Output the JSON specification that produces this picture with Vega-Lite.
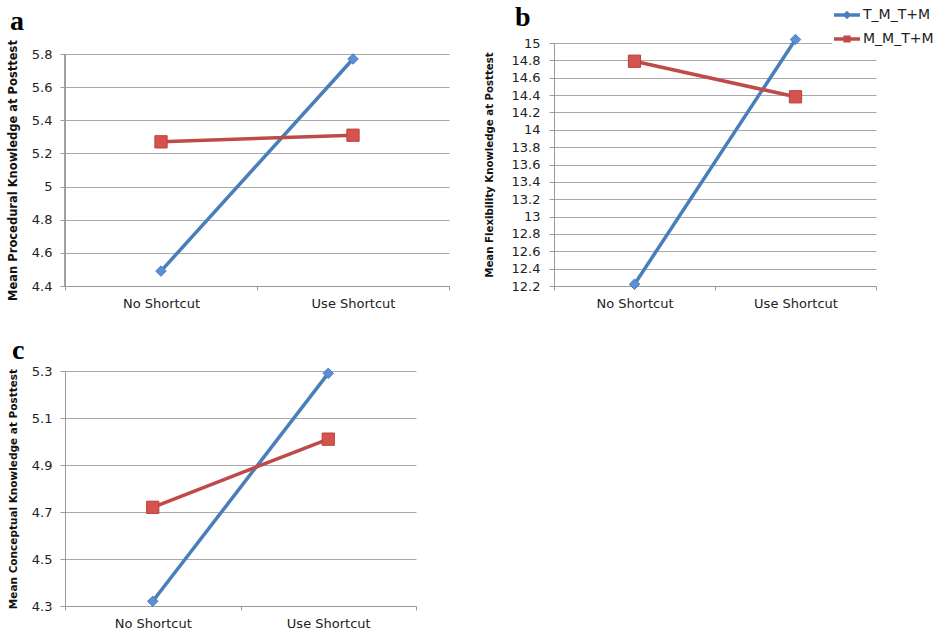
{
  "$schema": "https://vega.github.io/schema/vega-lite/v6.json",
  "background": "white",
  "padding": {"left": 7, "top": 0, "right": 0, "bottom": 0},
  "datasets": {
    "a": [
      {"shortcut": "No Shortcut", "group": "T_M_T+M", "value": 4.49},
      {"shortcut": "Use Shortcut", "group": "T_M_T+M", "value": 5.77},
      {"shortcut": "No Shortcut", "group": "M_M_T+M", "value": 5.27},
      {"shortcut": "Use Shortcut", "group": "M_M_T+M", "value": 5.31}
    ],
    "b": [
      {"shortcut": "No Shortcut", "group": "T_M_T+M", "value": 12.22},
      {"shortcut": "Use Shortcut", "group": "T_M_T+M", "value": 15.04},
      {"shortcut": "No Shortcut", "group": "M_M_T+M", "value": 14.79},
      {"shortcut": "Use Shortcut", "group": "M_M_T+M", "value": 14.38}
    ],
    "c": [
      {"shortcut": "No Shortcut", "group": "T_M_T+M", "value": 4.32},
      {"shortcut": "Use Shortcut", "group": "T_M_T+M", "value": 5.29},
      {"shortcut": "No Shortcut", "group": "M_M_T+M", "value": 4.72},
      {"shortcut": "Use Shortcut", "group": "M_M_T+M", "value": 5.01}
    ]
  },
  "config": {
    "view": {"stroke": null},
    "font": "DejaVu Sans",
    "axis": {
      "domainColor": "#9a9a9a",
      "tickColor": "#9a9a9a",
      "gridColor": "#a8a8a8",
      "gridOpacity": 1,
      "labelColor": "#222222",
      "labelFont": "DejaVu Sans",
      "labelFontSize": 13,
      "titleFont": "DejaVu Sans",
      "titleFontWeight": "bold",
      "titleColor": "#111111"
    },
    "title": {"font": "Liberation Serif", "fontSize": 28, "fontWeight": "bold", "anchor": "start", "frame": "group", "color": "#000000"}
  },
  "columns": 2,
  "align": "none",
  "spacing": {"row": 27, "column": 34},
  "concat": [
    {
      "width": 384,
      "height": 243,
      "title": {"text": "a", "dx": -55, "offset": 4},
      "data": {"name": "a"},
      "encoding": {
        "x": {"field": "shortcut", "type": "nominal", "sort": ["No Shortcut", "Use Shortcut"],
          "scale": {"type": "band", "paddingInner": 0, "paddingOuter": 0},
          "axis": {"title": null, "labelAngle": 0, "tickBand": "extent", "grid": false, "tickSize": 4, "labelPadding": 7}},
        "y": {"field": "value", "type": "quantitative",
          "scale": {"domain": [4.4, 5.8664], "zero": false, "nice": false},
          "axis": {"title": "Mean Procedural Knowledge at Posttest", "values": [4.4, 4.6, 4.8, 5, 5.2, 5.4, 5.6, 5.8], "format": "~g", "domain": false, "tickSize": 5, "labelPadding": 8, "titlePadding": 13, "titleFontSize": 11.5, "titleY": 127}}
      },
      "layer": [
        {"mark": {"type": "rule", "color": "#9a9a9a", "strokeWidth": 1},
          "encoding": {"x": {"datum": "No Shortcut", "type": "nominal", "bandPosition": 0}, "y": {"datum": 4.4, "type": "quantitative"}, "y2": {"datum": 5.8}}},
        {"mark": {"type": "line", "strokeWidth": 3.5},
          "encoding": {"stroke": {"field": "group", "type": "nominal",
            "scale": {"domain": ["T_M_T+M", "M_M_T+M"], "range": ["#4a7ebb", "#be4b48"]},
            "legend": {"title": null, "orient": "none", "legendX": 767, "legendY": -43, "symbolType": "stroke", "symbolSize": 676, "symbolStrokeWidth": 3.5, "labelFontSize": 14, "labelFont": "DejaVu Sans", "labelColor": "#222222", "rowPadding": -5, "fillColor": "white", "padding": 0, "labelOffset": 1,
              "encode": {"symbols": {"update": {"shape": {"signal": "datum.value === 'T_M_T+M' ? 'M-1,0H1M-0.14,0L0,-0.14L0.14,0L0,0.14Z' : 'M-1,0H1M-0.14,-0.14H0.14V0.14H-0.14Z'"}}}}}}}},
        {"transform": [{"filter": "datum.group === 'T_M_T+M'"}],
          "mark": {"type": "point", "shape": "diamond", "filled": true, "opacity": 1, "size": 110, "fill": "#5b8fd6", "stroke": "#4a7ebb", "strokeWidth": 1}},
        {"transform": [{"filter": "datum.group === 'M_M_T+M'"}],
          "mark": {"type": "point", "shape": "square", "filled": true, "opacity": 1, "size": 150, "fill": "#d6524e", "stroke": "#b8403c", "strokeWidth": 1}}
      ]
    },
    {
      "width": 322,
      "height": 243,
      "title": {"text": "b", "dx": -39, "offset": 0},
      "data": {"name": "b"},
      "encoding": {
        "x": {"field": "shortcut", "type": "nominal", "sort": ["No Shortcut", "Use Shortcut"],
          "scale": {"type": "band", "paddingInner": 0, "paddingOuter": 0},
          "axis": {"title": null, "labelAngle": 0, "tickBand": "extent", "grid": false, "tickSize": 4, "labelPadding": 7}},
        "y": {"field": "value", "type": "quantitative",
          "scale": {"domain": [12.2, 15], "zero": false, "nice": false},
          "axis": {"title": "Mean Flexibility Knowledge at Posttest", "values": [12.2, 12.4, 12.6, 12.8, 13, 13.2, 13.4, 13.6, 13.8, 14, 14.2, 14.4, 14.6, 14.8, 15], "format": "~g", "tickSize": 5, "labelPadding": 9, "titlePadding": 17, "titleFontSize": 10.2}}
      },
      "layer": [
        {"mark": {"type": "line", "strokeWidth": 3.5},
          "encoding": {"stroke": {"field": "group", "type": "nominal",
            "scale": {"domain": ["T_M_T+M", "M_M_T+M"], "range": ["#4a7ebb", "#be4b48"]}}}},
        {"transform": [{"filter": "datum.group === 'T_M_T+M'"}],
          "mark": {"type": "point", "shape": "diamond", "filled": true, "opacity": 1, "size": 110, "fill": "#5b8fd6", "stroke": "#4a7ebb", "strokeWidth": 1}},
        {"transform": [{"filter": "datum.group === 'M_M_T+M'"}],
          "mark": {"type": "point", "shape": "square", "filled": true, "opacity": 1, "size": 150, "fill": "#d6524e", "stroke": "#b8403c", "strokeWidth": 1}}
      ]
    },
    {
      "width": 351,
      "height": 235,
      "title": {"text": "c", "dx": -53, "offset": 0},
      "data": {"name": "c"},
      "encoding": {
        "x": {"field": "shortcut", "type": "nominal", "sort": ["No Shortcut", "Use Shortcut"],
          "scale": {"type": "band", "paddingInner": 0, "paddingOuter": 0},
          "axis": {"title": null, "labelAngle": 0, "tickBand": "extent", "grid": false, "tickSize": 4, "labelPadding": 7}},
        "y": {"field": "value", "type": "quantitative",
          "scale": {"domain": [4.3, 5.3], "zero": false, "nice": false},
          "axis": {"title": "Mean Conceptual Knowledge at Posttest", "values": [4.3, 4.5, 4.7, 4.9, 5.1, 5.3], "format": "~g", "tickSize": 5, "labelPadding": 8, "titlePadding": 13, "titleFontSize": 10.5}}
      },
      "layer": [
        {"mark": {"type": "line", "strokeWidth": 3.5},
          "encoding": {"stroke": {"field": "group", "type": "nominal",
            "scale": {"domain": ["T_M_T+M", "M_M_T+M"], "range": ["#4a7ebb", "#be4b48"]}}}},
        {"transform": [{"filter": "datum.group === 'T_M_T+M'"}],
          "mark": {"type": "point", "shape": "diamond", "filled": true, "opacity": 1, "size": 110, "fill": "#5b8fd6", "stroke": "#4a7ebb", "strokeWidth": 1}},
        {"transform": [{"filter": "datum.group === 'M_M_T+M'"}],
          "mark": {"type": "point", "shape": "square", "filled": true, "opacity": 1, "size": 150, "fill": "#d6524e", "stroke": "#b8403c", "strokeWidth": 1}}
      ]
    }
  ]
}
